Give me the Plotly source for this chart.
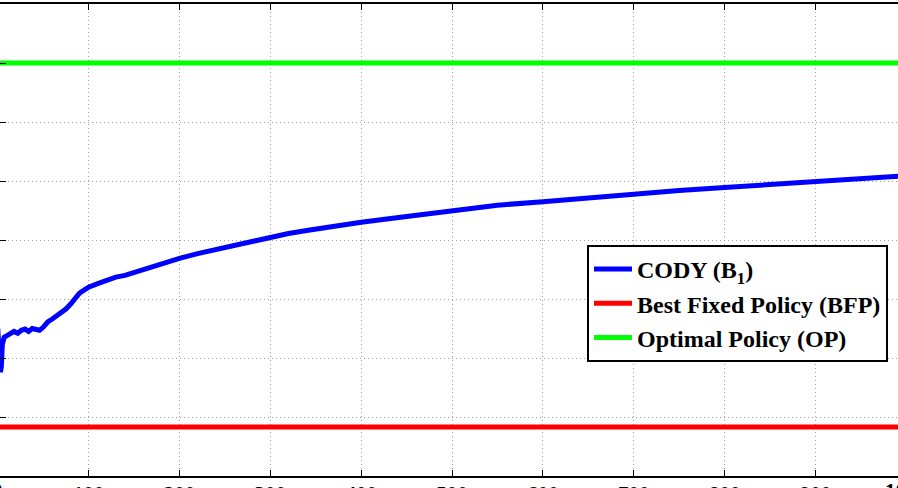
import plotly.graph_objects as go

# ---- data ----
t_cody = [0, 1, 2, 3, 4, 5, 7, 10, 14, 18, 22, 26, 30, 34, 38, 42, 46, 50, 55, 60,
          65, 70, 75, 80, 85, 90, 95, 100, 110, 120, 130, 140, 150, 160, 170, 180,
          190, 200, 220, 240, 260, 280, 300, 320, 340, 360, 380, 400, 450, 500,
          550, 600, 650, 700, 750, 800, 850, 900, 950, 1000]
v_cody = [0.250, 0.230, 0.199, 0.176, 0.186, 0.222, 0.235, 0.238, 0.242, 0.245,
          0.242, 0.247, 0.249, 0.245, 0.250, 0.249, 0.247, 0.252, 0.261, 0.266,
          0.271, 0.276, 0.283, 0.291, 0.301, 0.310, 0.315, 0.320, 0.326, 0.332,
          0.337, 0.340, 0.345, 0.350, 0.355, 0.360, 0.364, 0.369, 0.377, 0.384,
          0.392, 0.399, 0.406, 0.411, 0.416, 0.421, 0.425, 0.430, 0.440, 0.450,
          0.459, 0.465, 0.472, 0.479, 0.484, 0.489, 0.494, 0.499, 0.504, 0.509]
t_const = [0, 1000]
v_bfp = [0.083, 0.083]
v_op = [0.700, 0.700]

x_ticks = [0, 100, 200, 300, 400, 500, 600, 700, 800, 900, 1000]
y_ticks = [0.0, 0.1, 0.2, 0.3, 0.4, 0.5, 0.6, 0.7, 0.8]

x_range = [2.5, 990.8]
FONT = "Liberation Serif"

fig = go.Figure()
fig.add_trace(go.Scatter(x=t_cody, y=v_cody, mode="lines", name="CODY (B<sub>1</sub>)",
                         line=dict(color="#0000FF", width=5), cliponaxis=False))
fig.add_trace(go.Scatter(x=t_const, y=v_bfp, mode="lines", name="Best Fixed Policy (BFP)",
                         line=dict(color="#FF0000", width=5)))
fig.add_trace(go.Scatter(x=t_const, y=v_op, mode="lines", name="Optimal Policy (OP)",
                         line=dict(color="#00FF00", width=5)))

# partial tick labels at the cropped edges
span = x_range[1] - x_range[0]
for v in (x_ticks[0], x_ticks[-1]):
    fig.add_annotation(x=(v - x_range[0]) / span, xref="paper", y=0, yref="paper",
                       text="<b>%d</b>" % v, showarrow=False, yanchor="top",
                       xanchor="center", yshift=-1,
                       font=dict(family=FONT, size=21, color="black"))

fig.update_layout(
    width=898, height=488,
    margin=dict(l=0, r=0, t=4, b=12, autoexpand=False),
    paper_bgcolor="white", plot_bgcolor="white",
    font=dict(family=FONT, color="black"),
    legend=dict(x=888 / 898, xanchor="right", y=(476 - 245) / 472, yanchor="top",
                bgcolor="white", bordercolor="black", borderwidth=2,
                font=dict(family=FONT, size=24, color="black", weight="bold"),
                tracegroupgap=0, itemwidth=38, entrywidth=262),
    showlegend=True,
)
fig.update_xaxes(range=x_range, tickvals=x_ticks, ticktext=["<b>%d</b>" % v for v in x_ticks],
                 ticks="inside", ticklen=6, tickcolor="black", tickwidth=1,
                 showline=True, linecolor="black", linewidth=2, mirror="ticks",
                 showgrid=True, gridcolor="#a0a0a0", griddash="1px,3px", gridwidth=1,
                 zeroline=False, automargin=False, ticklabelstandoff=-2,
                 tickfont=dict(family=FONT, size=21, color="black"))
fig.update_yaxes(range=[y_ticks[0], y_ticks[-1]], tickvals=y_ticks,
                 ticks="inside", ticklen=6, tickcolor="black", tickwidth=1,
                 showline=False, showticklabels=False, automargin=False,
                 showgrid=True, gridcolor="#a0a0a0", griddash="1px,3px", gridwidth=1,
                 zeroline=False)

fig.write_html("out.html")
